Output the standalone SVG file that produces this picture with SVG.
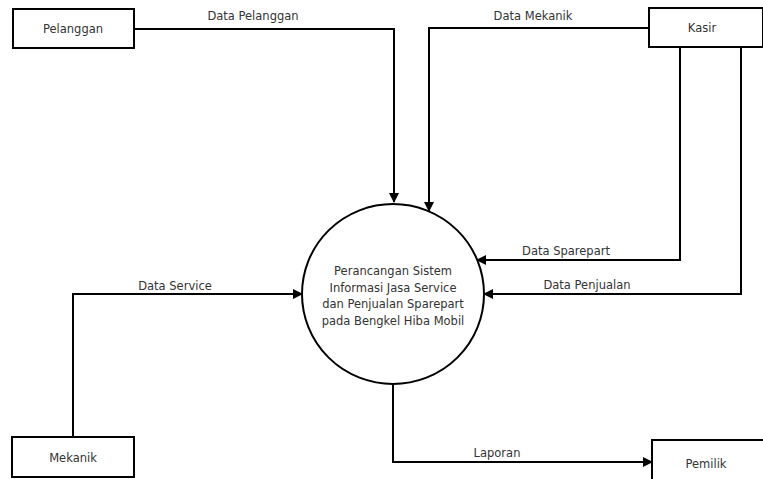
<svg xmlns="http://www.w3.org/2000/svg" width="763" height="479" viewBox="0 0 763 479">
<style>
.box{fill:#fff;stroke:#000;stroke-width:2}
.line{fill:none;stroke:#000;stroke-width:2}
text{font-family:"DejaVu Sans","Liberation Sans",sans-serif;font-size:11.5px;fill:#333;text-anchor:middle}
</style>
<defs>
<marker id="arr" markerWidth="10" markerHeight="10" refX="9" refY="5" orient="auto" markerUnits="userSpaceOnUse">
<path d="M0,0 L10,5 L0,10 Z" fill="#000"/>
</marker>
</defs>
<rect width="763" height="479" fill="#fff"/>
<g id="connectors">
<polyline class="line" points="134,29 394,29 394,202" marker-end="url(#arr)"/>
<polyline class="line" points="649,28 429,28 429,211" marker-end="url(#arr)"/>
<polyline class="line" points="680,47 680,260 477,260" marker-end="url(#arr)"/>
<polyline class="line" points="741,47 741,294 484,294" marker-end="url(#arr)"/>
<polyline class="line" points="73,437 73,294 302,294" marker-end="url(#arr)"/>
<polyline class="line" points="393,384 393,462 652,462" marker-end="url(#arr)"/>
</g>
<g id="labels">
<text x="253" y="20">Data Pelanggan</text>
<text x="533" y="20">Data Mekanik</text>
<text x="566" y="255">Data Sparepart</text>
<text x="587" y="289">Data Penjualan</text>
<text x="175" y="290">Data Service</text>
<text x="497" y="457">Laporan</text>
</g>
<g id="pelanggan"><rect class="box" x="13" y="9" width="121" height="39"/><text x="73" y="33">Pelanggan</text></g>
<g id="kasir"><rect class="box" x="649" y="8" width="114" height="39"/><text x="702" y="32">Kasir</text></g>
<g id="mekanik"><rect class="box" x="12" y="437" width="122" height="40"/><text x="73" y="462">Mekanik</text></g>
<g id="pemilik"><rect class="box" x="652" y="440" width="112" height="40"/><text x="706" y="468">Pemilik</text></g>
<g id="proses">
<ellipse class="box" cx="393" cy="294" rx="91" ry="90"/>
<text x="393" y="275">Perancangan Sistem</text>
<text x="393" y="292">Informasi Jasa Service</text>
<text x="393" y="308">dan Penjualan Sparepart</text>
<text x="393" y="325">pada Bengkel Hiba Mobil</text>
</g>
</svg>
